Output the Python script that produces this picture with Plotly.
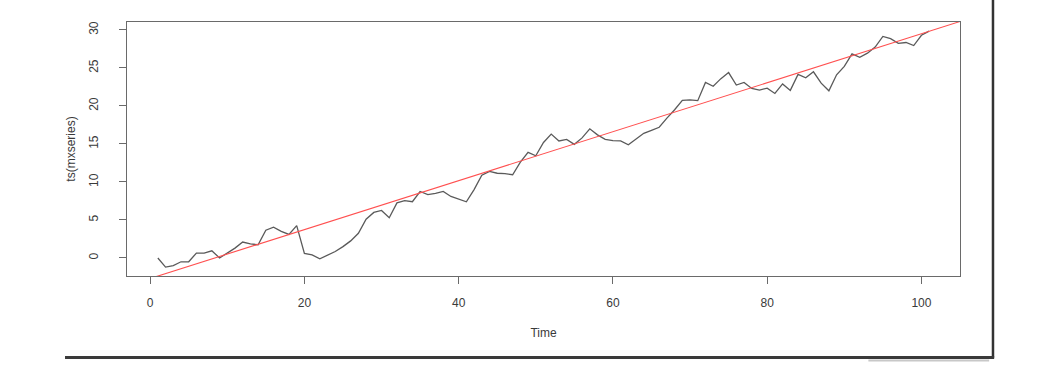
import plotly.graph_objects as go

# ---- data ----
time = list(range(1, 102))
mxseries = [
    0.0, -1.2, -1.0, -0.5, -0.5, 0.65, 0.65, 0.95, 0.0, 0.6,
    1.3, 2.1, 1.85, 1.75, 3.65, 4.05, 3.5, 3.1, 4.25, 0.6,
    0.4, -0.1, 0.4, 0.85, 1.5, 2.25, 3.25, 5.1, 6.0, 6.25,
    5.3, 7.25, 7.55, 7.4, 8.75, 8.35, 8.5, 8.75, 8.1, 7.8,
    7.4, 9.0, 10.9, 11.4, 11.15, 11.1, 10.95, 12.6, 13.9, 13.45,
    15.2, 16.3, 15.4, 15.6, 14.95, 15.8, 17.0, 16.2, 15.6, 15.45,
    15.4, 14.9, 15.6, 16.4, 16.8, 17.2, 18.4, 19.5, 20.75, 20.8,
    20.7, 23.1, 22.6, 23.6, 24.4, 22.75, 23.1, 22.3, 22.1, 22.35,
    21.65, 22.9, 22.05, 24.15, 23.7, 24.5, 23.0, 22.0, 24.1, 25.2,
    26.85, 26.4, 26.95, 27.75, 29.15, 28.85, 28.25, 28.35, 27.95, 29.3,
    29.85,
]
trend_intercept = -2.7
trend_slope = 0.322
x_ticks = [0, 20, 40, 60, 80, 100]
y_ticks = [0, 5, 10, 15, 20, 25, 30]
x_range = [-3, 105]
y_range = [-2.37, 31.05]

trend_x = [x_range[0], x_range[1]]
trend_y = [trend_intercept + trend_slope * v for v in trend_x]

font_family = "Liberation Sans, Arial, sans-serif"
axis_color = "#6a6a6a"
text_color = "#3a3a3a"

fig = go.Figure()
fig.add_trace(go.Scatter(
    x=time, y=mxseries, mode="lines",
    line=dict(color="#5a5a5a", width=1.3),
    hoverinfo="skip", showlegend=False,
))
fig.add_trace(go.Scatter(
    x=trend_x, y=trend_y, mode="lines",
    line=dict(color="#ff5050", width=1.1),
    hoverinfo="skip", showlegend=False, cliponaxis=True,
))

fig.update_layout(
    width=1038, height=374,
    margin=dict(l=127, r=78, t=22, b=98),
    paper_bgcolor="white", plot_bgcolor="white",
    font=dict(family=font_family, size=12, color=text_color),
    showlegend=False,
    xaxis=dict(
        range=x_range, tickmode="array", tickvals=x_ticks,
        ticktext=[str(v) for v in x_ticks],
        showgrid=False, zeroline=False,
        showline=True, linecolor=axis_color, linewidth=1.2, mirror=True,
        ticks="outside", ticklen=7, tickwidth=1, tickcolor=axis_color,
        tickfont=dict(size=12, color=text_color),
        ticklabelstandoff=8,
        title=dict(text="Time", font=dict(size=12, color=text_color), standoff=20),
    ),
    yaxis=dict(
        range=y_range, tickmode="array", tickvals=y_ticks,
        ticktext=[str(v) for v in y_ticks],
        showgrid=False, zeroline=False,
        showline=True, linecolor=axis_color, linewidth=1.2, mirror=True,
        ticks="outside", ticklen=7, tickwidth=1, tickcolor=axis_color,
        tickangle=-90,
        tickfont=dict(size=12, color=text_color),
        ticklabelstandoff=16,
        title=dict(text="ts(mxseries)", font=dict(size=12, color=text_color), standoff=8),
    ),
    shapes=[
        # drop-shadow frame around the pasted image
        dict(type="line", xref="paper", yref="paper",
             x0=1.0396, x1=1.0396, y0=1.09, y1=-0.322,
             line=dict(color="#333333", width=2.5), layer="above"),
        dict(type="line", xref="paper", yref="paper",
             x0=-0.0744, x1=1.041, y0=-0.321, y1=-0.321,
             line=dict(color="#3a3a3a", width=3), layer="above"),
        dict(type="line", xref="paper", yref="paper",
             x0=0.89, x1=1.035, y0=-0.333, y1=-0.333,
             line=dict(color="#c8c8c8", width=2), layer="above"),
    ],
)

fig.write_html("out.html")
